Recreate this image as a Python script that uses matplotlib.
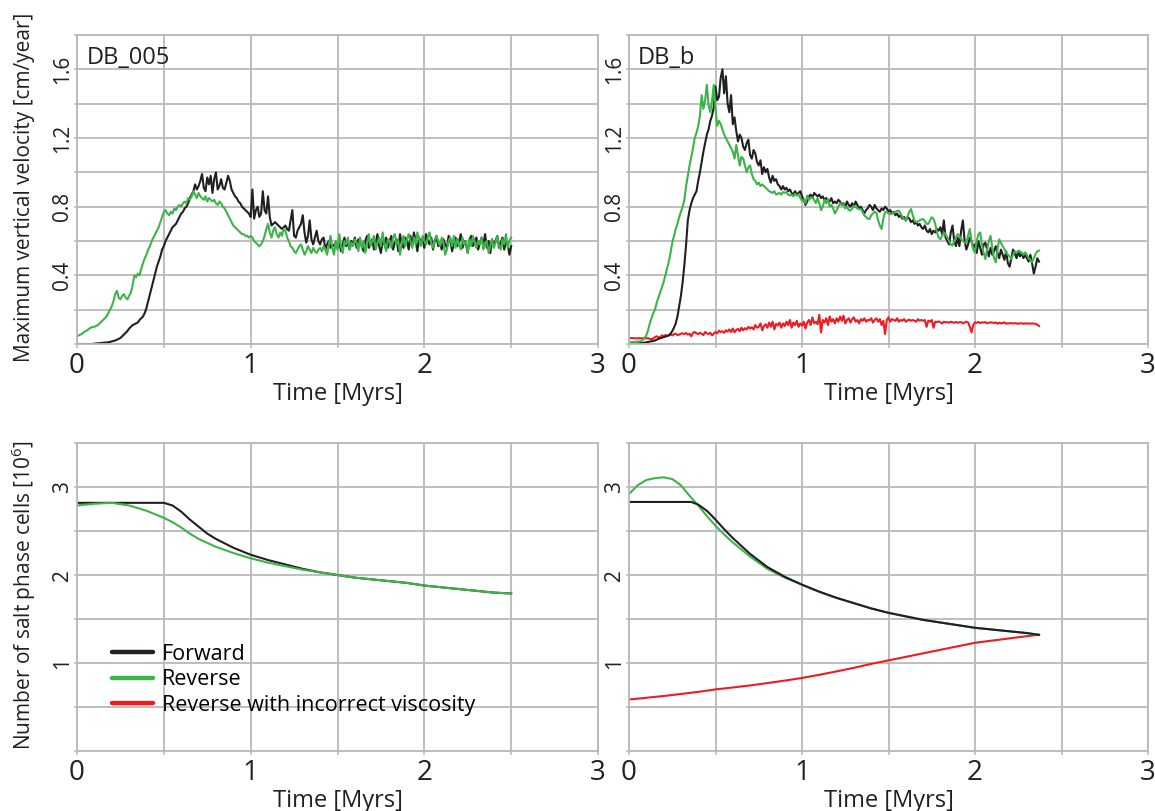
import numpy as np
import matplotlib
matplotlib.use("Agg")
import matplotlib.pyplot as plt
from matplotlib.lines import Line2D

plt.rcParams['font.family'] = ['Open Sans', 'DejaVu Sans']
plt.rcParams['mathtext.fontset'] = 'custom'
plt.rcParams['mathtext.rm'] = 'Open Sans'
plt.rcParams['mathtext.it'] = 'Open Sans:italic'
plt.rcParams['mathtext.default'] = 'rm'

BLACK = '#231f20'
GREEN = '#3cb44a'
RED = '#ed1c24'
GRID = '#b9b9b9'

series_labels = ['Forward', 'Reverse', 'Reverse with incorrect viscosity']
panel_names = ['DB_005', 'DB_b']
x_ticklabels = ['0', '', '1', '', '2', '', '3']
vel_ticklabels = ['', '', '0.4', '', '0.8', '', '1.2', '', '1.6', '']
cell_ticklabels = ['', '', '1', '', '2', '', '3', '']

# ---- maximum vertical velocity records, sampled every 0.01 Myrs ----
t_db005 = np.round(np.arange(251) * 0.01, 2)
t_dbb = np.round(np.arange(238) * 0.01, 2)

vel_db005_fwd = [
    0.0, 0.0, 0.0, 0.0, 0.0, 0.0, 0.0, 0.0, 0.0, 0.0, 0.002,
    0.003, 0.004, 0.005, 0.006, 0.007, 0.008, 0.009, 0.01, 0.012, 0.015,
    0.018, 0.02, 0.025, 0.03, 0.035, 0.045, 0.055, 0.065, 0.075, 0.09,
    0.1, 0.11, 0.115, 0.12, 0.125, 0.14, 0.15, 0.16, 0.18, 0.21,
    0.25, 0.29, 0.33, 0.37, 0.41, 0.45, 0.48, 0.51, 0.55, 0.57,
    0.6, 0.62, 0.64, 0.66, 0.68, 0.69, 0.7, 0.72, 0.74, 0.76,
    0.77, 0.79, 0.8, 0.82, 0.85, 0.87, 0.89, 0.93, 0.9, 0.92,
    0.95, 0.99, 0.91, 0.89, 0.97, 0.93, 0.98, 0.88, 0.96, 1.0,
    0.9, 0.92, 0.96, 0.91, 0.9, 0.94, 0.98, 0.95, 0.9, 0.88,
    0.86, 0.85, 0.83, 0.82, 0.8, 0.79, 0.78, 0.77, 0.76, 0.74,
    0.9, 0.73, 0.78, 0.8, 0.74, 0.76, 0.89, 0.78, 0.76, 0.86,
    0.74, 0.69, 0.7, 0.71, 0.7, 0.69, 0.68, 0.67, 0.68, 0.69,
    0.67, 0.66, 0.72, 0.78, 0.63, 0.62, 0.66, 0.68, 0.7, 0.75,
    0.65, 0.59, 0.63, 0.72, 0.61, 0.58, 0.62, 0.66, 0.6, 0.58,
    0.61, 0.62, 0.55, 0.58, 0.6, 0.56, 0.58, 0.57, 0.59, 0.56,
    0.6, 0.54, 0.58, 0.62, 0.57, 0.59, 0.55, 0.6, 0.58, 0.62,
    0.56, 0.61, 0.59, 0.57, 0.54, 0.6, 0.63, 0.56, 0.58, 0.61,
    0.55, 0.59, 0.64, 0.57, 0.53, 0.6, 0.58, 0.62, 0.56, 0.6,
    0.63, 0.55, 0.59, 0.61, 0.54, 0.64, 0.58, 0.56, 0.62, 0.6,
    0.55, 0.63, 0.57, 0.65, 0.6, 0.54, 0.62, 0.59, 0.61, 0.56,
    0.64, 0.6, 0.58, 0.62, 0.55, 0.6, 0.63, 0.57, 0.59, 0.55,
    0.61, 0.58, 0.56, 0.63, 0.6, 0.54, 0.59, 0.62, 0.57, 0.6,
    0.64, 0.56, 0.6, 0.58, 0.53, 0.61, 0.63, 0.57, 0.6, 0.62,
    0.55, 0.59, 0.62, 0.58, 0.64, 0.56, 0.6, 0.53, 0.61, 0.58,
    0.6, 0.63, 0.56, 0.59, 0.62, 0.55, 0.6, 0.58, 0.52, 0.57,
]

vel_db005_rev = [
    0.045, 0.05, 0.055, 0.06, 0.07, 0.075, 0.08, 0.09, 0.095, 0.1, 0.1,
    0.105, 0.11, 0.12, 0.13, 0.14, 0.15, 0.16, 0.18, 0.2, 0.22,
    0.25, 0.29, 0.31, 0.27, 0.26, 0.28, 0.29, 0.27, 0.26, 0.28,
    0.3, 0.34, 0.4, 0.39, 0.41, 0.4, 0.44, 0.47, 0.5, 0.52,
    0.55, 0.57, 0.6, 0.62, 0.64, 0.66, 0.68, 0.71, 0.74, 0.77,
    0.78, 0.76, 0.75, 0.77, 0.76, 0.79, 0.78, 0.8, 0.81, 0.8,
    0.82, 0.83, 0.82, 0.85, 0.84, 0.86, 0.89, 0.87, 0.85, 0.88,
    0.86, 0.85, 0.84, 0.86, 0.83, 0.85, 0.84, 0.83, 0.84, 0.82,
    0.81, 0.83, 0.82, 0.8, 0.79, 0.77, 0.75, 0.73, 0.71, 0.69,
    0.68, 0.67, 0.66, 0.65, 0.64, 0.64, 0.63, 0.63, 0.62, 0.63,
    0.62, 0.6, 0.59, 0.58, 0.57, 0.58, 0.6, 0.63, 0.67, 0.7,
    0.65, 0.62, 0.66, 0.68, 0.64, 0.62, 0.65, 0.63, 0.67, 0.66,
    0.62, 0.6, 0.57, 0.56, 0.54, 0.53, 0.55, 0.57, 0.58, 0.55,
    0.52, 0.54, 0.57, 0.55, 0.53, 0.56, 0.54, 0.53, 0.55, 0.56,
    0.54, 0.57, 0.55, 0.52, 0.58, 0.63, 0.56, 0.52, 0.6, 0.55,
    0.64, 0.57, 0.53, 0.6, 0.58, 0.62, 0.55, 0.59, 0.57, 0.61,
    0.59, 0.54, 0.62, 0.56, 0.6, 0.53, 0.58, 0.64, 0.57, 0.6,
    0.63, 0.55, 0.59, 0.62, 0.57, 0.65, 0.58, 0.54, 0.61, 0.6,
    0.56, 0.62, 0.64, 0.58, 0.6, 0.52, 0.59, 0.63, 0.57, 0.61,
    0.64, 0.6, 0.56, 0.62, 0.58, 0.65, 0.61, 0.57, 0.63, 0.6,
    0.58, 0.62, 0.65, 0.59, 0.56, 0.61, 0.63, 0.6, 0.57, 0.62,
    0.59, 0.52, 0.55, 0.6, 0.62, 0.57, 0.63, 0.56, 0.61, 0.58,
    0.55, 0.62, 0.58, 0.6, 0.53, 0.61, 0.57, 0.63, 0.59, 0.56,
    0.6, 0.58, 0.62, 0.55, 0.59, 0.6, 0.53, 0.57, 0.61, 0.56,
    0.59, 0.63, 0.57, 0.55, 0.61, 0.58, 0.64, 0.56, 0.6, 0.62,
]

vel_dbb_fwd = [
    0.0, 0.0, 0.0, 0.002, 0.003, 0.004, 0.005, 0.006, 0.007, 0.008,
    0.01, 0.012, 0.014, 0.016, 0.018, 0.02, 0.025, 0.03, 0.033, 0.036,
    0.04, 0.043, 0.047, 0.05, 0.06, 0.075, 0.095, 0.12, 0.16, 0.22,
    0.28, 0.36, 0.46, 0.58, 0.72, 0.78, 0.82, 0.85, 0.87, 0.89,
    0.95, 1.0, 1.06, 1.12, 1.17, 1.22, 1.25, 1.3, 1.33, 1.38,
    1.5, 1.42, 1.44, 1.55, 1.6, 1.46, 1.56, 1.4, 1.35, 1.45,
    1.28, 1.32, 1.24, 1.18, 1.22, 1.2, 1.15, 1.13, 1.17, 1.19,
    1.1, 1.08, 1.13, 1.11, 1.06, 1.04, 1.07, 0.99, 1.03, 1.0,
    1.02, 0.97, 0.94, 0.98, 0.95, 0.96, 0.93, 0.92, 0.9, 0.92,
    0.9, 0.91, 0.89, 0.9, 0.88, 0.87, 0.89, 0.87, 0.88, 0.89,
    0.86, 0.84, 0.81, 0.83, 0.86, 0.87, 0.85, 0.88, 0.87, 0.86,
    0.87, 0.85, 0.86, 0.84, 0.85, 0.84, 0.83, 0.85, 0.82, 0.83,
    0.82, 0.84, 0.83, 0.81, 0.82, 0.8, 0.83, 0.81, 0.8, 0.82,
    0.8, 0.83, 0.81, 0.79, 0.8, 0.78, 0.76, 0.78, 0.79, 0.81,
    0.8, 0.78, 0.81, 0.79, 0.78, 0.77, 0.79, 0.78, 0.8, 0.79,
    0.77, 0.78, 0.76, 0.77, 0.75, 0.76, 0.74, 0.75, 0.73, 0.74,
    0.72, 0.74, 0.73, 0.71, 0.72, 0.7, 0.71, 0.69, 0.7, 0.68,
    0.67, 0.69, 0.66, 0.65, 0.67, 0.64, 0.66, 0.65, 0.67, 0.66,
    0.68, 0.64, 0.72, 0.62, 0.6, 0.58, 0.65, 0.69, 0.6, 0.57,
    0.62, 0.57, 0.66, 0.72, 0.6, 0.55, 0.58, 0.62, 0.6, 0.56,
    0.58, 0.53, 0.6, 0.56, 0.52, 0.58, 0.59, 0.55, 0.51, 0.56,
    0.52, 0.54, 0.57, 0.53, 0.5, 0.55, 0.52, 0.49, 0.54, 0.47,
    0.45, 0.5, 0.55, 0.53, 0.5, 0.54, 0.51, 0.53, 0.5, 0.52,
    0.5, 0.48, 0.52, 0.47, 0.41, 0.45, 0.5, 0.48,
]

vel_dbb_rev = [
    0.01, 0.01, 0.012, 0.012, 0.013, 0.014, 0.015, 0.018, 0.025, 0.035,
    0.05, 0.08, 0.12, 0.15, 0.18, 0.2, 0.24, 0.27, 0.3, 0.33,
    0.36, 0.4, 0.44, 0.48, 0.53, 0.59, 0.63, 0.67, 0.7, 0.74,
    0.77, 0.8, 0.84, 0.92, 0.98, 1.04, 1.09, 1.14, 1.2, 1.23,
    1.27, 1.33, 1.45, 1.37, 1.42, 1.51, 1.39, 1.35, 1.42, 1.51,
    1.37, 1.27, 1.3, 1.28, 1.25, 1.22, 1.2, 1.18, 1.16, 1.14,
    1.12, 1.08, 1.16, 1.1, 1.04, 1.09, 1.08, 1.04, 1.0, 1.03,
    1.04, 0.99, 0.96, 0.95, 0.93, 0.94, 0.92, 0.93, 0.92, 0.91,
    0.9, 0.89, 0.885, 0.88, 0.89, 0.87, 0.875, 0.88, 0.87, 0.885,
    0.88, 0.885, 0.87, 0.865, 0.87, 0.86, 0.875, 0.865, 0.87, 0.85,
    0.835, 0.84, 0.82, 0.865, 0.84, 0.85, 0.855, 0.84, 0.82, 0.85,
    0.82, 0.78, 0.8, 0.84, 0.82, 0.845, 0.8, 0.81, 0.79, 0.76,
    0.78, 0.8, 0.82, 0.81, 0.815, 0.79, 0.8, 0.78, 0.777, 0.79,
    0.805, 0.8, 0.79, 0.785, 0.786, 0.77, 0.75, 0.74, 0.73, 0.728,
    0.75, 0.76, 0.77, 0.765, 0.72, 0.69, 0.67, 0.73, 0.767, 0.77,
    0.76, 0.757, 0.76, 0.765, 0.77, 0.775, 0.777, 0.76, 0.74, 0.73,
    0.718, 0.74, 0.77, 0.786, 0.75, 0.72, 0.709, 0.715, 0.72, 0.725,
    0.728, 0.715, 0.7, 0.7, 0.72, 0.738, 0.73, 0.7, 0.65, 0.62,
    0.61, 0.63, 0.65, 0.64, 0.62, 0.6, 0.58, 0.573, 0.6, 0.62,
    0.64, 0.63, 0.61, 0.6, 0.59, 0.592, 0.63, 0.67, 0.6, 0.55,
    0.534, 0.6, 0.64, 0.65, 0.58, 0.53, 0.495, 0.55, 0.6, 0.63,
    0.56, 0.5, 0.476, 0.55, 0.61, 0.59, 0.57, 0.553, 0.53, 0.52,
    0.51, 0.495, 0.52, 0.54, 0.53, 0.544, 0.54, 0.53, 0.52, 0.534,
    0.52, 0.5, 0.49, 0.476, 0.5, 0.524, 0.54, 0.544,
]

vel_dbb_rev_visc = [
    0.035, 0.035, 0.034, 0.034, 0.033, 0.033, 0.034, 0.034, 0.033, 0.033,
    0.033, 0.034, 0.03, 0.028, 0.032, 0.04, 0.045, 0.038, 0.04, 0.05,
    0.045, 0.052, 0.048, 0.05, 0.056, 0.05, 0.058, 0.06, 0.052, 0.055,
    0.06, 0.062, 0.058, 0.064, 0.055, 0.06, 0.045, 0.066, 0.07, 0.062,
    0.058, 0.065, 0.06, 0.052, 0.07, 0.062, 0.058, 0.066, 0.05, 0.06,
    0.07, 0.062, 0.078, 0.07, 0.074, 0.065, 0.08, 0.072, 0.085, 0.07,
    0.09, 0.068, 0.082, 0.088, 0.075, 0.095, 0.08, 0.092, 0.085, 0.1,
    0.09, 0.098, 0.085, 0.11, 0.095, 0.1, 0.12, 0.08, 0.105, 0.115,
    0.095, 0.125, 0.1, 0.13, 0.085, 0.118, 0.108, 0.125, 0.095, 0.12,
    0.105, 0.13, 0.11, 0.14, 0.095, 0.125, 0.11, 0.135, 0.1, 0.12,
    0.107, 0.13, 0.09, 0.125, 0.14, 0.11, 0.155, 0.12, 0.13, 0.115,
    0.17, 0.068, 0.14, 0.125, 0.15, 0.11, 0.16, 0.13, 0.145, 0.12,
    0.15, 0.13, 0.16, 0.135, 0.165, 0.12, 0.14, 0.15, 0.125, 0.145,
    0.155, 0.13, 0.14, 0.12, 0.145, 0.135, 0.15, 0.13, 0.14, 0.138,
    0.15, 0.125, 0.14, 0.15, 0.13, 0.145, 0.11, 0.135, 0.058, 0.14,
    0.155, 0.13, 0.145, 0.14, 0.135, 0.15, 0.13, 0.14, 0.136, 0.145,
    0.13, 0.138, 0.142, 0.135, 0.14, 0.136, 0.13, 0.145, 0.136, 0.14,
    0.135, 0.14, 0.1, 0.136, 0.13, 0.14, 0.095, 0.13, 0.128, 0.132,
    0.126, 0.12, 0.13, 0.126, 0.128, 0.124, 0.13, 0.126, 0.125, 0.128,
    0.124, 0.126, 0.128, 0.12, 0.125, 0.13, 0.126, 0.1, 0.068, 0.11,
    0.126, 0.124, 0.128, 0.122, 0.126, 0.125, 0.128, 0.12, 0.124, 0.126,
    0.125, 0.122, 0.126, 0.118, 0.124, 0.12, 0.122, 0.126, 0.118, 0.121,
    0.12, 0.122, 0.119, 0.121, 0.12, 0.118, 0.121, 0.12, 0.118, 0.12,
    0.119, 0.12, 0.118, 0.12, 0.119, 0.118, 0.112, 0.105,
]

# ---- number of salt phase cells (millions) ----
t_cells_db005_fwd = [0, 0.5, 0.55, 0.6, 0.65, 0.7, 0.75, 0.8, 0.9, 1.0, 1.1, 1.2, 1.3,
                     1.4, 1.5, 1.6, 1.7, 1.8, 1.9, 2.0, 2.1, 2.2, 2.3, 2.4, 2.5]
cells_db005_fwd = [2.82, 2.82, 2.79, 2.72, 2.63, 2.55, 2.47, 2.41, 2.31, 2.23, 2.17, 2.12, 2.07,
                   2.03, 2.0, 1.97, 1.95, 1.93, 1.91, 1.88, 1.86, 1.84, 1.82, 1.8, 1.79]
t_cells_db005_rev = [0, 0.1, 0.2, 0.3, 0.4, 0.5, 0.55, 0.6, 0.65, 0.7, 0.8, 0.9, 1.0, 1.1, 1.2,
                     1.3, 1.4, 1.5, 1.6, 1.7, 1.8, 1.9, 2.0, 2.1, 2.2, 2.3, 2.4, 2.5]
cells_db005_rev = [2.79, 2.81, 2.82, 2.79, 2.73, 2.65, 2.6, 2.54, 2.47, 2.41, 2.32, 2.25, 2.19, 2.14, 2.1,
                   2.06, 2.03, 2.0, 1.97, 1.95, 1.93, 1.91, 1.88, 1.86, 1.84, 1.82, 1.8, 1.79]

t_cells_dbb_fwd = [0, 0.36, 0.4, 0.45, 0.5, 0.55, 0.6, 0.65, 0.7, 0.8, 0.9, 1.0, 1.1, 1.2, 1.3,
                   1.4, 1.5, 1.6, 1.7, 1.8, 1.9, 2.0, 2.1, 2.2, 2.3, 2.37]
cells_dbb_fwd = [2.83, 2.83, 2.8, 2.73, 2.63, 2.52, 2.42, 2.33, 2.24, 2.09, 1.98, 1.89, 1.81, 1.74, 1.68,
                 1.62, 1.57, 1.53, 1.49, 1.46, 1.43, 1.4, 1.38, 1.36, 1.34, 1.32]
t_cells_dbb_rev = [0, 0.05, 0.1, 0.15, 0.2, 0.25, 0.3, 0.35, 0.4, 0.45, 0.5, 0.55, 0.6, 0.65, 0.7,
                   0.8, 0.9, 1.0, 1.1, 1.2, 1.3, 1.4, 1.5, 1.6, 1.7, 1.8, 1.9, 2.0, 2.1, 2.2,
                   2.3, 2.37]
cells_dbb_rev = [2.92, 3.02, 3.08, 3.1, 3.11, 3.09, 3.02, 2.9, 2.79, 2.67, 2.56, 2.46, 2.37, 2.29, 2.21,
                 2.07, 1.97, 1.89, 1.81, 1.74, 1.68, 1.62, 1.57, 1.53, 1.49, 1.46, 1.43, 1.4, 1.38, 1.36,
                 1.34, 1.32]
t_cells_dbb_visc = [0, 0.1, 0.2, 0.3, 0.4, 0.5, 0.6, 0.7, 0.8, 0.9, 1.0, 1.1, 1.2, 1.3, 1.4,
                    1.5, 1.6, 1.7, 1.8, 1.9, 2.0, 2.1, 2.2, 2.3, 2.37]
cells_dbb_visc = [0.585, 0.605, 0.625, 0.648, 0.672, 0.7, 0.722, 0.745, 0.772, 0.8, 0.83, 0.866, 0.905,
                  0.945, 0.99, 1.03, 1.07, 1.11, 1.15, 1.19, 1.23, 1.255, 1.28, 1.305, 1.32]

# ---------------------------------------------------------------------------
W, H = 1155, 811
fig = plt.figure(figsize=(W / 100, H / 100), dpi=100)


def px_axes(left, top, right, bottom):
    return fig.add_axes([left / W, 1 - bottom / H, (right - left) / W, (bottom - top) / H])


ax_tl = px_axes(77, 35, 598, 344)
ax_tr = px_axes(629, 35, 1148, 344)
ax_bl = px_axes(77, 443, 598, 751)
ax_br = px_axes(629, 443, 1148, 751)


def style(ax, ymax, ystep, ylabels):
    ax.set_xlim(0, 3)
    ax.set_ylim(0, ymax)
    ax.set_xticks(np.arange(7) * 0.5)
    ax.set_xticklabels(x_ticklabels)
    ax.set_yticks(np.arange(len(ylabels)) * ystep)
    ax.set_yticklabels(ylabels)
    ax.grid(True, color=GRID, lw=1.3)
    ax.set_axisbelow(True)
    for s in ax.spines.values():
        s.set_color(GRID)
        s.set_linewidth(1.3)
    ax.tick_params(axis='x', length=3, width=1.1, color=GRID, pad=3, labelsize=20,
                   labelcolor='#231f20')
    ax.tick_params(axis='y', length=2, width=1.1, color=GRID, pad=1, labelsize=15,
                   labelrotation=90, labelcolor='#231f20')
    for lab in ax.get_yticklabels():
        lab.set_va('center')


for ax in (ax_tl, ax_tr):
    style(ax, 1.8, 0.2, vel_ticklabels)
for ax in (ax_bl, ax_br):
    style(ax, 3.5, 0.5, cell_ticklabels)

lw = 1.5
ax_tl.plot(t_db005, vel_db005_fwd, color=BLACK, lw=lw)
ax_tl.plot(t_db005, vel_db005_rev, color=GREEN, lw=lw)

ax_tr.plot(t_dbb, vel_dbb_rev_visc, color=RED, lw=lw)
ax_tr.plot(t_dbb, vel_dbb_fwd, color=BLACK, lw=lw)
ax_tr.plot(t_dbb, vel_dbb_rev, color=GREEN, lw=lw)

ax_bl.plot(t_cells_db005_fwd, cells_db005_fwd, color=BLACK, lw=lw)
ax_bl.plot(t_cells_db005_rev, cells_db005_rev, color=GREEN, lw=lw)

ax_br.plot(t_cells_dbb_visc, cells_dbb_visc, color=RED, lw=lw)
ax_br.plot(t_cells_dbb_rev, cells_dbb_rev, color=GREEN, lw=lw)
ax_br.plot(t_cells_dbb_fwd, cells_dbb_fwd, color=BLACK, lw=lw)

ax_tl.text(0.019, 0.965, panel_names[0], transform=ax_tl.transAxes, ha='left', va='top',
           fontsize=17, color='#231f20')
ax_tr.text(0.017, 0.965, panel_names[1], transform=ax_tr.transAxes, ha='left', va='top',
           fontsize=17, color='#231f20')

# axis titles
for cx in ((77 + 598) / 2, (629 + 1148) / 2):
    fig.text(cx / W, 1 - 400 / H, 'Time [Myrs]', ha='center', va='baseline', fontsize=17,
             color='#231f20')
    fig.text(cx / W, 1 - 807 / H, 'Time [Myrs]', ha='center', va='baseline', fontsize=17,
             color='#231f20')
fig.text(25 / W, 1 - 187 / H, 'Maximum vertical velocity [cm/year]', rotation=90,
         ha='center', va='center', fontsize=15, color='#231f20')
fig.text(24 / W, 1 - 595 / H, 'Number of salt phase cells [10$^6$]', rotation=90,
         ha='center', va='center', fontsize=15, color='#231f20')

handles = [Line2D([], [], color=c, lw=3.2, solid_capstyle='round') for c in (BLACK, GREEN, RED)]
ax_bl.legend(handles, series_labels, loc='upper left', bbox_to_anchor=(112 / W, 1 - 644 / H),
             bbox_transform=fig.transFigure, frameon=False, fontsize=15.5, handlelength=1.9,
             handletextpad=0.42, labelspacing=0.2, borderpad=0, borderaxespad=0)

fig.savefig('out.png', dpi=100)
